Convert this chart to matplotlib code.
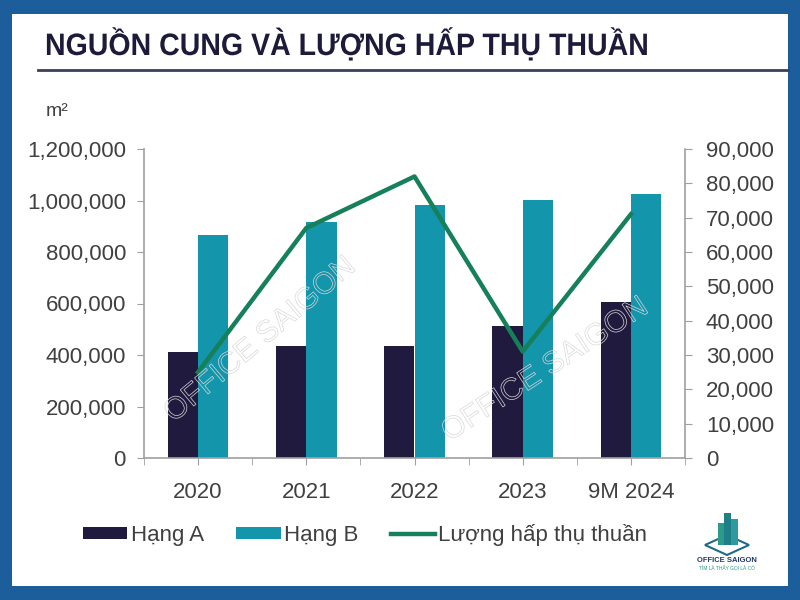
import matplotlib
matplotlib.use("Agg")
import matplotlib.pyplot as plt
import matplotlib.patheffects as pe
from matplotlib.patches import Rectangle, Polygon, PathPatch
from matplotlib.ticker import FuncFormatter, MultipleLocator
from matplotlib.lines import Line2D
from matplotlib.textpath import TextPath
from matplotlib.font_manager import FontProperties
from matplotlib.transforms import Affine2D
import numpy as np

categories = ["2020", "2021", "2022", "2023", "9M 2024"]
hang_a = [410000, 436000, 436000, 513000, 606000]
hang_b = [867000, 915000, 981000, 1002000, 1025000]
hap_thu = [25000, 67000, 82000, 31000, 71000]
series_names = ["Hạng A", "Hạng B", "Lượng hấp thụ thuần"]
title = "NGUỒN CUNG VÀ LƯỢNG HẤP THỤ THUẦN"

C_A = "#201b3e"
C_B = "#1395ab"
C_L = "#16805a"
FRAME = "#1b5e9b"
TXT = "#404040"
AX = "#a0a0a0"

plt.rcParams['font.family'] = ['Liberation Sans', 'DejaVu Sans']

fig = plt.figure(figsize=(8, 6), dpi=100)
fig.patch.set_facecolor(FRAME)
W, H = 800, 600
def fx(x): return x / W
def fy(y): return 1 - y / H

fig.patches.append(Rectangle((fx(12), fy(586)), fx(788) - fx(12), fy(14) - fy(586),
                             transform=fig.transFigure, facecolor="white", edgecolor="none", zorder=-5))

# title (condensed bold)
tp = TextPath((0, 0), title, size=31, prop=FontProperties(family="Liberation Sans", weight="bold"))
tw = tp.get_extents().width
cond = 600 / tw
tr = Affine2D().scale(cond / 100, 1 / 100).translate(45 / 100, (600 - 55) / 100) + fig.dpi_scale_trans
fig.patches.append(PathPatch(tp, transform=tr, facecolor="#1e1b3a", edgecolor="none", zorder=5))
fig.add_artist(Line2D([fx(38), fx(788)], [fy(70), fy(70)], transform=fig.transFigure,
                      color="#3b3f58", linewidth=2))
fig.text(fx(46), fy(111), "m²", fontsize=14, color=TXT, va="center", ha="left")

ax = fig.add_axes([fx(144), fy(458), fx(685) - fx(144), fy(149) - fy(458)])
ax.set_facecolor("none")
x = np.arange(len(categories))
bw = 0.28
ax.bar(x - bw / 2, hang_a, bw, color=C_A, label=series_names[0], zorder=2)
ax.bar(x + bw / 2, hang_b, bw, color=C_B, label=series_names[1], zorder=2)
ax.set_xlim(-0.5, len(categories) - 0.5)
ax.set_ylim(0, 1200000)
ax.yaxis.set_major_locator(MultipleLocator(200000))
ax.yaxis.set_major_formatter(FuncFormatter(lambda v, p: f"{int(v):,}"))
ax.set_xticks(x)
ax.set_xticklabels(categories)
ax.set_xticks(np.arange(-0.5, len(categories), 1.0), minor=True)
ax.tick_params(axis="x", which="both", length=5, color=AX, direction="out")
ax.tick_params(axis="x", which="major", pad=12, labelsize=16, labelcolor=TXT)
ax.tick_params(axis="y", length=5, color=AX, labelsize=16, labelcolor=TXT, pad=8)
for s in ["top", "right"]:
    ax.spines[s].set_visible(False)
for s in ["left", "bottom"]:
    ax.spines[s].set_color(AX)
    ax.spines[s].set_linewidth(1.2)

ax2 = ax.twinx()
ax2.plot(x, hap_thu, color=C_L, linewidth=3.2, label=series_names[2], zorder=3)
ax2.set_ylim(0, 90000)
ax2.yaxis.set_major_locator(MultipleLocator(10000))
ax2.yaxis.set_major_formatter(FuncFormatter(lambda v, p: f"{int(v):,}"))
ax2.tick_params(axis="y", length=5, color=AX, labelsize=16, labelcolor=TXT, pad=10)
for s in ["top", "left", "bottom"]:
    ax2.spines[s].set_visible(False)
ax2.spines["right"].set_color(AX)
ax2.spines["right"].set_linewidth(1.2)

# watermark
for (wx, wy, rot) in [(260, 340, 40), (545, 370, 33)]:
    fig.text(fx(wx), fy(wy), "OFFICE SAIGON", fontsize=22, rotation=rot, ha="center", va="center",
             color="none", zorder=10,
             path_effects=[pe.withStroke(linewidth=0.5, foreground="#d8d8d8")])

# legend
h1, l1 = ax.get_legend_handles_labels()
h2, l2 = ax2.get_legend_handles_labels()
leg = fig.legend(h1 + h2, l1 + l2, loc="center left", bbox_to_anchor=(fx(83), fy(535)),
                 ncol=3, frameon=False, fontsize=16, handlelength=2.0, handleheight=0.45,
                 handletextpad=0.15, columnspacing=1.45, borderpad=0, borderaxespad=0)
for t in leg.get_texts():
    t.set_color(TXT)

# small logo
lx, ly = 727, 540
fig.patches.append(Polygon([[fx(lx - 22), fy(ly + 5)], [fx(lx), fy(ly + 15)], [fx(lx + 22), fy(ly + 5)],
                            [fx(lx), fy(ly - 5)]], closed=True, transform=fig.transFigure,
                           facecolor="none", edgecolor="#1f6a8a", linewidth=1.5))
for bx, bh, c in [(-9, 22, "#2a9a8a"), (-3, 32, "#1f7f86"), (4, 26, "#2f9aa0")]:
    fig.patches.append(Rectangle((fx(lx + bx), fy(ly + 5)), fx(7), bh / H,
                                 transform=fig.transFigure, facecolor=c, edgecolor="none"))
fig.text(fx(lx), fy(560), "OFFICE SAIGON", fontsize=5.5, fontweight="bold", color="#1e3a6a",
         ha="center", va="center")
fig.text(fx(lx), fy(567), "TÌM LÀ THẤY GỌI LÀ CÓ", fontsize=3.5, color="#2a9a8a",
         ha="center", va="center")

fig.savefig("out.png", dpi=100, facecolor=fig.get_facecolor())
